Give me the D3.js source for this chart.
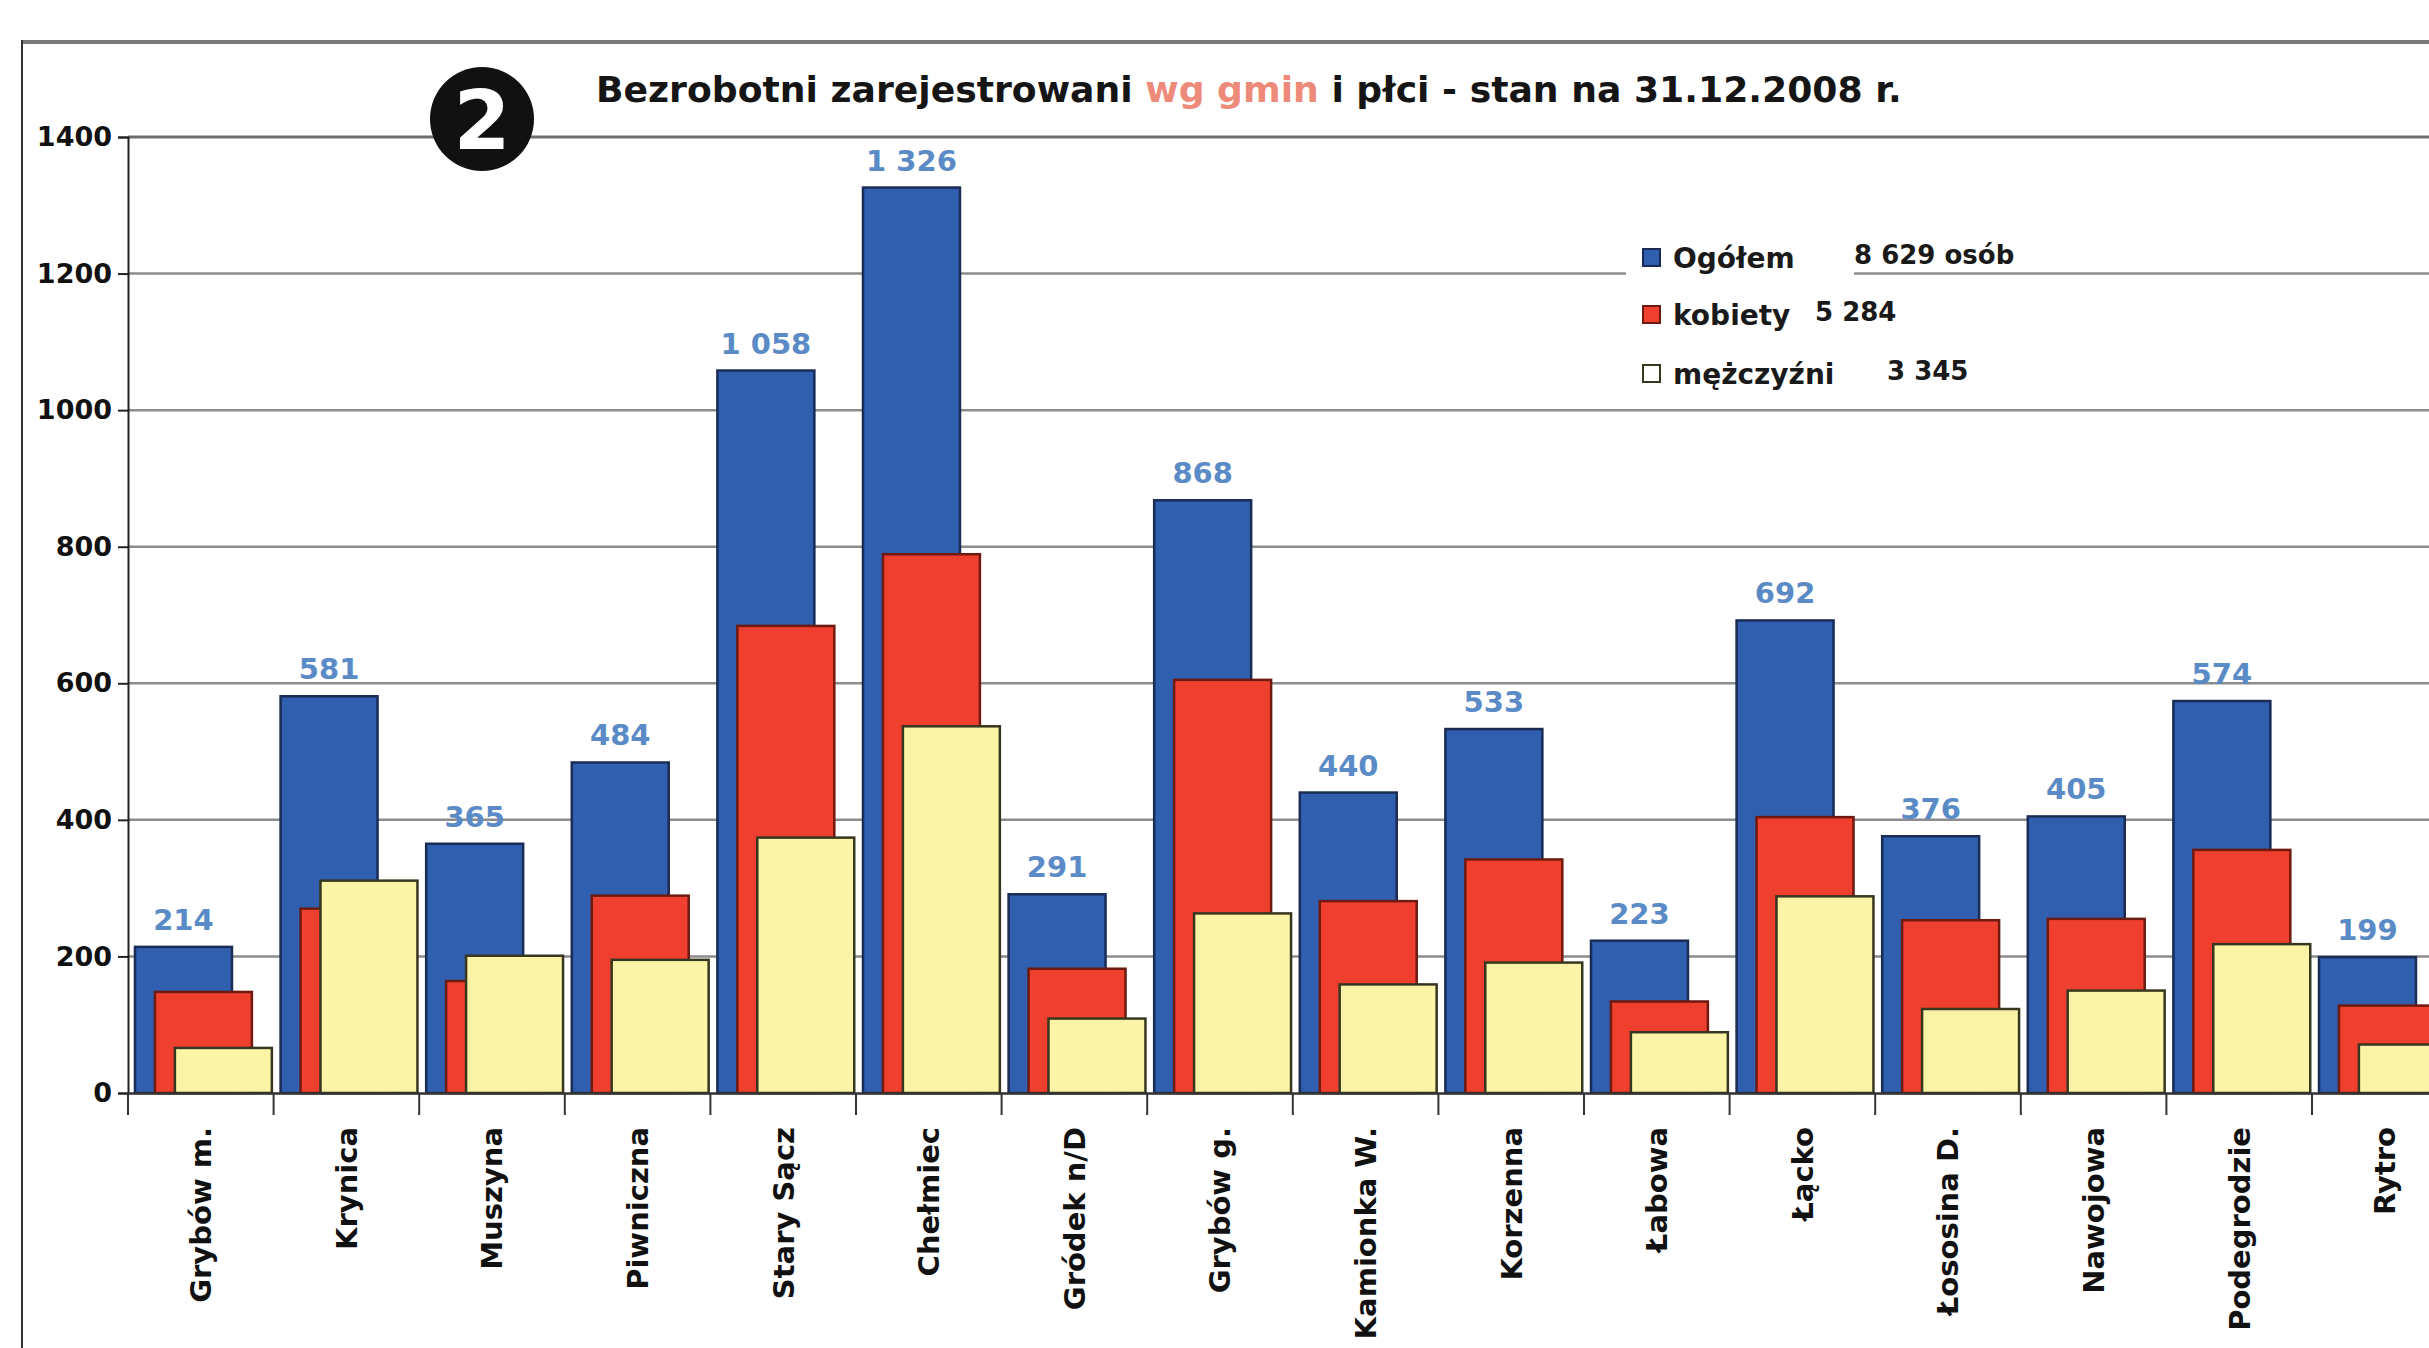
<!DOCTYPE html>
<html>
<head>
<meta charset="utf-8">
<script src="https://cdn.jsdelivr.net/npm/d3@7"></script>
<style>
  body { margin: 0; background: #fff; }
  text { font-family: "DejaVu Sans", "Liberation Sans", sans-serif; font-weight: bold; }
</style>
</head>
<body>
<div id="chartContainer"></div>
<script>
// data
var gminy = ["Grybów m.", "Krynica", "Muszyna", "Piwniczna", "Stary Sącz", "Chełmiec",
  "Gródek n/D", "Grybów g.", "Kamionka W.", "Korzenna", "Łabowa", "Łącko",
  "Łososina D.", "Nawojowa", "Podegrodzie", "Rytro"];
var ogolem    = [214, 581, 365, 484, 1058, 1326, 291, 868, 440, 533, 223, 692, 376, 405, 574, 199];
var kobiety   = [148, 270, 164, 289, 684, 789, 182, 605, 281, 342, 134, 404, 253, 255, 356, 128];
var mezczyzni = [66, 311, 201, 195, 374, 537, 109, 263, 159, 191, 89, 288, 123, 150, 218, 71];
var yTicks = [0, 200, 400, 600, 800, 1000, 1200, 1400];
var legendLabels = ["Ogółem", "kobiety", "mężczyźni"];
var legendTotals = ["8 629 osób", "5 284", "3 345"];

var cfg = {
  w: 2429,
  h: 1348,
  x0: 128,
  band: 145.6,
  yTop: 137,
  yBase: 1093
};

var colors = {
  fill: ["#2f5fae", "#ef3f2e", "#fbf4a6"],
  stroke: ["#1a2c55", "#6e1a10", "#37361e"]
};

// where each series sits inside its band (fraction of band)
var barOffset = [0.048, 0.185, 0.322],
    barWidth = 0.666;

var legendTotalX = [1854, 1815, 1887];

var svg = d3.select("#chartContainer")
  .append("svg")
  .attr("width", cfg.w)
  .attr("height", cfg.h);

svg.append("rect")
  .attr("width", cfg.w)
  .attr("height", cfg.h)
  .style("fill", "#fff");

// frame
svg.append("line")
  .attr("x1", 22).attr("x2", cfg.w)
  .attr("y1", 42).attr("y2", 42)
  .style("stroke", "#7a7a7a")
  .style("stroke-width", 4);

svg.append("line")
  .attr("x1", 22).attr("x2", 22)
  .attr("y1", 40).attr("y2", cfg.h)
  .style("stroke", "#333")
  .style("stroke-width", 2);

var xScale = d3.scaleBand()
  .domain(gminy)
  .range([cfg.x0, cfg.x0 + cfg.band * gminy.length])
  .padding(0);

var yScale = d3.scaleLinear()
  .domain([0, 1400])
  .range([cfg.yBase, cfg.yTop]);

// gridlines
svg.append("g")
  .selectAll("line")
  .data(yTicks.slice(1))
  .enter()
  .append("line")
  .attr("x1", cfg.x0)
  .attr("x2", cfg.w)
  .attr("y1", function(d) { return yScale(d); })
  .attr("y2", function(d) { return yScale(d); })
  .style("stroke", function(d) { return d == 1400 ? "#6e6e6e" : "#8c8c8c"; })
  .style("stroke-width", function(d) { return d == 1400 ? 3 : 2.5; });

// y axis
var yAxis = d3.axisLeft(yScale)
  .tickValues(yTicks)
  .tickSize(10)
  .tickPadding(6)
  .tickFormat(d3.format("d"));

var yG = svg.append("g")
  .attr("transform", "translate(" + cfg.x0 + ",0)")
  .call(yAxis);

yG.select(".domain").style("stroke", "#222").style("stroke-width", 2);
yG.selectAll(".tick line").style("stroke", "#222").style("stroke-width", 2);
yG.selectAll(".tick text")
  .style("font-size", "27px")
  .style("fill", "#111")
  .attr("font-family", null);

// bars: total, women, men
var series = [ogolem, kobiety, mezczyzni];

series.forEach(function(vals, s) {
  svg.append("g")
    .attr("class", "series" + s)
    .selectAll("rect")
    .data(vals)
    .enter()
    .append("rect")
    .attr("x", function(d, i) { return xScale(gminy[i]) + barOffset[s] * xScale.bandwidth(); })
    .attr("width", barWidth * xScale.bandwidth())
    .attr("y", function(d) { return yScale(d); })
    .attr("height", function(d) { return yScale(0) - yScale(d); })
    .style("fill", colors.fill[s])
    .style("stroke", colors.stroke[s])
    .style("stroke-width", 2.5);
});

// x axis
var xAxis = d3.axisBottom(xScale)
  .tickSize(0)
  .tickFormat("");

var xG = svg.append("g")
  .attr("transform", "translate(0," + cfg.yBase + ")")
  .call(xAxis);
xG.select(".domain").style("stroke", "#333").style("stroke-width", 2.5);

svg.append("g")
  .selectAll("line")
  .data(gminy)
  .enter()
  .append("line")
  .attr("x1", function(d) { return xScale(d); })
  .attr("x2", function(d) { return xScale(d); })
  .attr("y1", cfg.yBase)
  .attr("y2", cfg.yBase + 22)
  .style("stroke", "#333")
  .style("stroke-width", 2);

// category labels, rotated
svg.append("g")
  .selectAll("text")
  .data(gminy)
  .enter()
  .append("text")
  .attr("transform", function(d) {
    return "translate(" + (xScale(d) + xScale.bandwidth() / 2) + "," + (cfg.yBase + 34) + ") rotate(-90)";
  })
  .attr("dy", "0.36em")
  .attr("text-anchor", "end")
  .style("font-size", "29px")
  .style("fill", "#111")
  .text(function(d) { return d; });

// value labels above total bars
var fmtVal = function(d) { return d3.format(",")(d).replace(",", " "); };

svg.append("g")
  .selectAll("text")
  .data(ogolem)
  .enter()
  .append("text")
  .attr("x", function(d, i) {
    return xScale(gminy[i]) + (barOffset[0] + barWidth / 2) * xScale.bandwidth();
  })
  .attr("y", function(d) { return yScale(d) - 17; })
  .attr("text-anchor", "middle")
  .style("font-size", "29px")
  .style("fill", "#5a8bc6")
  .text(fmtVal);

// badge with number
svg.append("circle")
  .attr("cx", 482).attr("cy", 119).attr("r", 52)
  .style("fill", "#111");
svg.append("text")
  .attr("x", 482).attr("y", 119)
  .attr("dy", "0.36em")
  .attr("text-anchor", "middle")
  .style("font-size", "82px")
  .style("fill", "#fff")
  .text("2");

// title
var title = svg.append("text")
  .attr("x", 596)
  .attr("y", 102)
  .style("font-size", "31px")
  .style("fill", "#151515");
title.append("tspan").text("Bezrobotni zarejestrowani ");
title.append("tspan").style("fill", "#ee8a7a").text("wg gmin");
title.append("tspan").text(" i płci - stan na 31.12.2008 r.");

var tLen = title.node().getComputedTextLength();
title.style("font-size", (31 * 1306 / tLen) + "px");

// legend
var legend = svg.append("g");
legend.append("rect")
  .attr("x", 1626).attr("y", 232)
  .attr("width", 228).attr("height", 165)
  .style("fill", "#fff");

var legendY = [268, 325, 384];

legendLabels.forEach(function(lab, i) {
  legend.append("rect")
    .attr("x", 1643).attr("y", legendY[i] - 19)
    .attr("width", 17).attr("height", 17)
    .style("fill", i == 2 ? "#fff" : colors.fill[i])
    .style("stroke", colors.stroke[i])
    .style("stroke-width", 2);
  legend.append("text")
    .attr("x", 1673).attr("y", legendY[i])
    .style("font-size", "28px")
    .style("fill", "#1a1a1a")
    .text(lab);
  legend.append("text")
    .attr("x", legendTotalX[i]).attr("y", legendY[i] - 4)
    .style("font-size", "26px")
    .style("fill", "#1a1a1a")
    .text(legendTotals[i]);
});
</script>
</body>
</html>
